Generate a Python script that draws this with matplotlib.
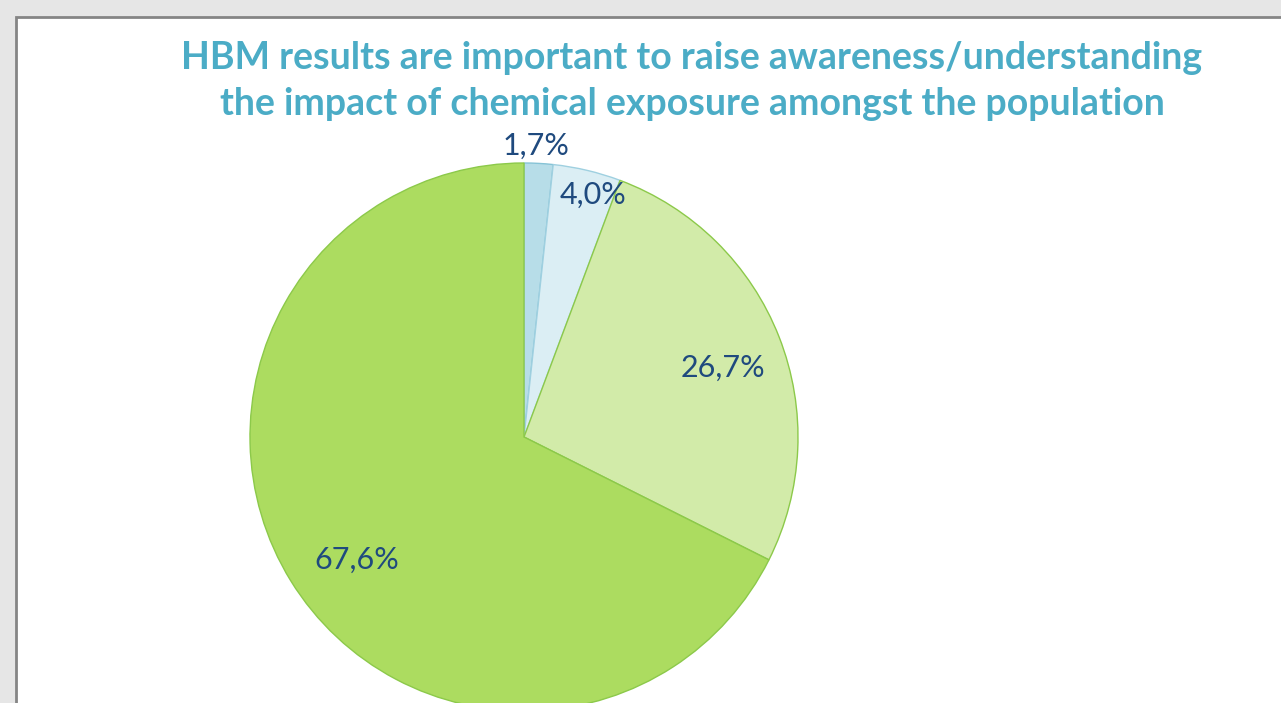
import matplotlib
matplotlib.use('Agg')
import matplotlib.pyplot as plt
from matplotlib.patches import Rectangle

# data
TITLE = "HBM results are important to raise awareness/understanding\nthe impact of chemical exposure amongst the population"
VALUES = [1.7, 4.0, 26.7, 67.6]
LABELS = ["1,7%", "4,0%", "26,7%", "67,6%"]
COLORS = ['#b7dde8', '#dbeef4', '#d2eba9', '#acdc60']
EDGES = ['#86c3d6', '#9fd0e0', '#8cc94a', '#8cc94a']

# label placement (pixel coords, y measured from top)
LABEL_POS = [(536, 146), (593, 195), (723, 368), (357, 560)]

W, H = 1281, 703
CX, CY, R = 524, 437, 274

fig = plt.figure(figsize=(W / 100, H / 100), dpi=100)
fig.patch.set_facecolor('#e6e6e6')

ax = fig.add_axes([0, 0, 1, 1])

# white panel with grey frame
ax.add_patch(Rectangle((16, -10), W, H - 17 + 10, facecolor='white',
                       edgecolor='#858585', linewidth=2, zorder=0))

wedges, _ = ax.pie(VALUES, colors=COLORS, startangle=90, counterclock=False,
                   center=(CX, H - CY), radius=R, frame=True,
                   wedgeprops=dict(linewidth=1.0))
for w, ec in zip(wedges, EDGES):
    w.set_edgecolor(ec)
    w.set_zorder(2)
ax.set_xlim(0, W)
ax.set_ylim(0, H)
ax.set_aspect('equal')
ax.axis('off')

for lab, (x, y) in zip(LABELS, LABEL_POS):
    ax.text(x, H - y, lab, ha='center', va='center', fontsize=22,
            family='Lato', color='#1f4a7e', zorder=3)

ax.text(692, H - 81, TITLE, ha='center', va='center', fontsize=27,
        family='Lato', fontweight='bold', color='#4bacc6',
        linespacing=1.40, zorder=3)

fig.savefig('out.png', dpi=100, facecolor=fig.get_facecolor())
